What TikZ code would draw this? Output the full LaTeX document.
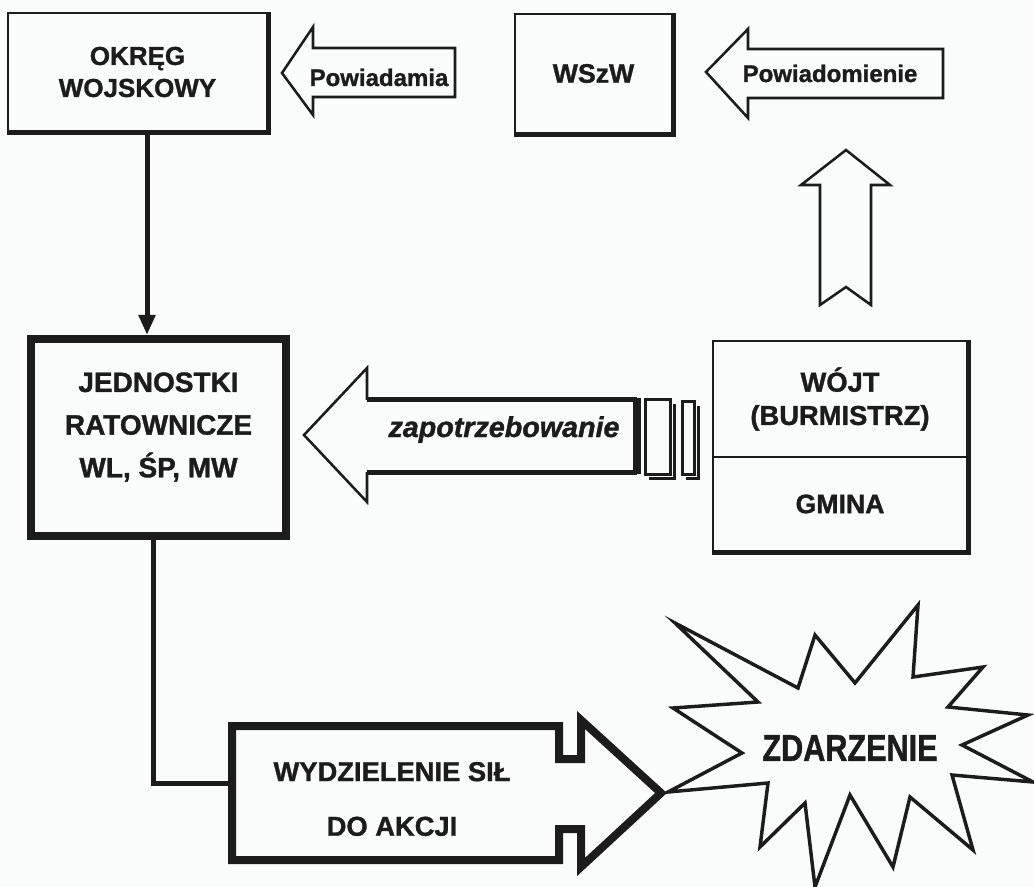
\documentclass[tikz,border=0pt]{standalone}
\usepackage{fontspec}
\setmainfont{Liberation Sans}[BoldFeatures={FakeBold=1.2},BoldItalicFeatures={FakeBold=1.2}]
\usetikzlibrary{arrows.meta,calc}
\definecolor{ink}{HTML}{1C1C1C}
\definecolor{paper}{HTML}{FAFBFB}
\begin{document}
\begin{tikzpicture}[x=0.75pt,y=-0.75pt,
  box/.style={draw=ink, line width=1.9pt, rectangle, inner sep=0pt, align=center, text=ink},
  heavybox/.style={draw=ink, line width=6pt, rectangle, inner sep=0pt},
  shadowline/.style={draw=ink, line width=3.4pt},
  conn/.style={draw=ink, line width=3.75pt},
  outline/.style={draw=ink, line width=1.9pt, line join=miter},
  thickoutline/.style={draw=ink, line width=6pt, line join=miter},
  lbl/.style={text=ink, align=center, inner sep=0pt},
  fbig/.style={font=\bfseries\fontsize{21}{32}\selectfont},
  fmid/.style={font=\bfseries\fontsize{19.5}{24}\selectfont},
  fsmall/.style={font=\bfseries\fontsize{18}{22}\selectfont},
]
\useasboundingbox[fill=paper] (0,0) rectangle (1034,887);

% ---- boxes
\node[box, fmid, minimum width=194.25pt, minimum height=88.5pt] (okreg) at (137.5,72) {OKRĘG\\WOJSKOWY};
\draw[shadowline] (okreg.north east) -- (okreg.south east) -- (okreg.south west);

\node[box, font=\bfseries\fontsize{20}{24}\selectfont, minimum width=117.75pt, minimum height=89.25pt] (wszw) at (593.5,73.5) {WSzW};
\draw[shadowline] (wszw.north east) -- (wszw.south east) -- (wszw.south west);

\node[heavybox, minimum width=191.25pt, minimum height=147.75pt] (jedn) at (158.5,437.5) {};
\node[lbl, fbig] (jedntxt) at (158.5,427) {JEDNOSTKI\\RATOWNICZE\\WL, ŚP, MW};

\node[box, font=\bfseries\fontsize{20.5}{25}\selectfont, minimum width=190.5pt, minimum height=87pt] (wojt) at (840,399) {WÓJT\\(BURMISTRZ)};
\node[box, font=\bfseries\fontsize{20}{24}\selectfont, minimum width=190.5pt, minimum height=70.5pt] (gmina) at (840,504) {GMINA};
\draw[shadowline] (wojt.north east) -- (gmina.south east) -- (gmina.south west);

% ---- block arrow: Powiadamia
\draw[outline] (313,48) -- (313,27) -- (282,73) -- (313,115) -- (313,97) -- (455,97) -- (455,48) -- cycle;
\node[lbl, fsmall, anchor=base] (powa) at (379,86) {Powiadamia};

% ---- block arrow: Powiadomienie
\draw[outline] (748,49) -- (748,29) -- (706,72) -- (748,118) -- (748,98) -- (943,98) -- (943,49) -- cycle;
\node[lbl, fsmall, anchor=base] (powo) at (830,82) {Powiadomienie};

% ---- up arrow
\draw[outline] (846,150) -- (890,185) -- (871,185) -- (871,305) -- (846,287) -- (820,305) -- (820,185) -- (801,185) -- cycle;

% ---- connector OKREG -> JEDNOSTKI
\coordinate (vx) at (147,0);
\draw[conn, -{Triangle[length=15pt,width=12pt]}] (okreg.south -| vx) -- (jedn.north -| vx);

% ---- zapotrzebowanie arrow
\draw[outline] (367,400) -- (367,368) -- (304,435) -- (367,502) -- (367,472);
\draw[draw=ink, line width=3.75pt] (367,400) -- (637,400);
\draw[draw=ink, line width=3.75pt] (367,472) -- (637,472);
\draw[draw=ink, line width=6pt] (637,398) -- (637,474);
\draw[draw=ink, line width=2.25pt] (645,400) rectangle (670,474);
\draw[draw=ink, line width=2.25pt] (674,404) -- (674,478) -- (649,478);
\draw[draw=ink, line width=2.25pt] (682,402) rectangle (694,474);
\draw[draw=ink, line width=2.25pt] (698,406) -- (698,478) -- (686,478);
\node[lbl, font=\bfseries\itshape\fontsize{21.5}{24}\selectfont, anchor=base] (zap) at (504,437) {zapotrzebowanie};

% ---- WYDZIELENIE arrow
\draw[thickoutline] (232,726) -- (559,726) -- (559,759) -- (581,759) -- (581,720) -- (661,793) -- (581,867) -- (581,829) -- (559,829) -- (559,860) -- (232,860) -- cycle;
\node[lbl, font=\bfseries\fontsize{20.5}{41}\selectfont] (wydz) at (392,799) {WYDZIELENIE SIŁ\\DO AKCJI};
\coordinate (win) at (232,783);
\coordinate (wx) at (153,0);
\draw[conn] (jedn.south -| wx) |- (win);

% ---- star
\draw[draw=ink, line width=2.6pt, line join=miter]
 (675,623) -- (798,688) -- (815,635) -- (855,683) -- (918,605) -- (913,677) -- (983,667) -- (948,707)
 -- (1028,715) -- (962,745) -- (1033,782) -- (952,775) -- (973,850) -- (910,797) -- (893,867)
 -- (850,795) -- (815,887) -- (805,803) -- (760,847) -- (768,783) -- (668,792) -- (742,753)
 -- (673,708) -- (758,702) -- cycle;
\node[lbl, font=\bfseries\fontsize{28}{30}\selectfont] (zd) at (850,748) {\scalebox{0.82}[1]{ZDARZENIE}};
\end{tikzpicture}
\end{document}
